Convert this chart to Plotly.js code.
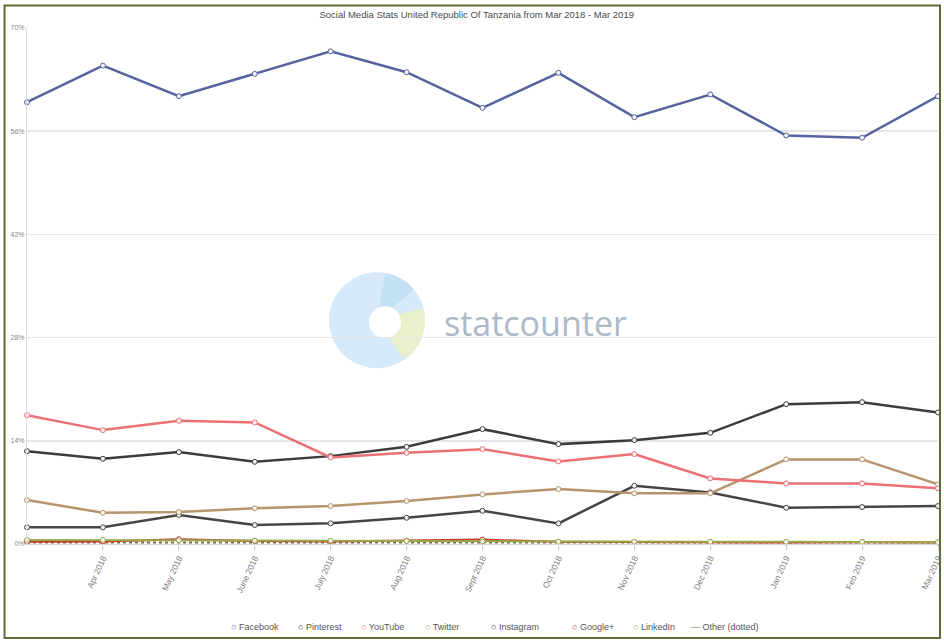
<!DOCTYPE html>
<html>
<head>
<meta charset="utf-8">
<script src="https://cdn.plot.ly/plotly-3.0.1.min.js"></script>
<style>html,body{margin:0;padding:0;background:#fff;}#chart{width:944px;height:641px;}</style>
</head>
<body>
<div id="chart"></div>
<script>
// ---- Data ----
const months = ["Mar 2018","Apr 2018","May 2018","June 2018","July 2018","Aug 2018","Sept 2018","Oct 2018","Nov 2018","Dec 2018","Jan 2019","Feb 2019","Mar 2019"];
const facebook  = [59.93,64.90,60.75,63.78,66.84,64.00,59.17,63.92,57.90,60.98,55.42,55.11,60.75];
const pinterest = [12.60,11.56,12.47,11.15,11.92,13.18,15.58,13.55,14.09,15.08,18.97,19.24,17.85];
const youtube   = [17.48,15.45,16.71,16.49,11.75,12.37,12.87,11.21,12.20,8.90,8.22,8.22,7.55];
const twitter   = [5.96,4.24,4.34,4.84,5.15,5.83,6.73,7.45,6.87,6.87,11.48,11.48,8.09];
const instagram = [2.26,2.26,3.93,2.57,2.80,3.56,4.51,2.80,7.90,7.00,4.92,5.01,5.15];
const googleplus= [0.30,0.35,0.65,0.40,0.35,0.45,0.60,0.30,0.25,0.25,0.20,0.25,0.20];
const linkedin  = [0.55,0.55,0.50,0.45,0.45,0.40,0.35,0.30,0.30,0.30,0.30,0.30,0.25];
const other     = [0.20,0.20,0.20,0.20,0.20,0.20,0.20,0.20,0.20,0.20,0.20,0.20,0.20];
const yTicks = [0,14,28,42,56,70];
const seriesNames = ["Facebook","Pinterest","YouTube","Twitter","Instagram","Google+","LinkedIn","Other (dotted)"];
const titleText = "Social Media Stats United Republic Of Tanzania from Mar 2018 - Mar 2019";

// ---- Styling ----
const colors = ["#56639f","#3c3c3c","#ec6f73","#b7946c","#454545","#c9342e","#9aa94a","#7a6a4a"];
const seriesData = [facebook,pinterest,youtube,twitter,instagram,googleplus,linkedin,other];
const drawOrder = [7,5,6,4,3,1,2,0];

// pixel geometry of the plot area
const L = 27, R = 938, T = 27.5, B = 544;
const px2x = p => (p - L) / (R - L);
const px2y = p => (B - p) / (B - T);

const traces = drawOrder.map(i => {
  const isOther = i === 7;
  return {
    type: "scatter",
    mode: isOther ? "lines" : "lines+markers",
    x: months,
    y: seriesData[i],
    name: seriesNames[i],
    showlegend: false,
    cliponaxis: false,
    line: {color: colors[i], width: i >= 5 ? 2 : 2.5, dash: isOther ? "dot" : "solid"},
    marker: {symbol: "circle", size: 5, color: "#f4f4f4", line: {color: colors[i], width: 1}}
  };
});

// ---- watermark logo shapes ----
const shapes = [];
const cx = 377, cy = 320, r = 48;
shapes.push({type:"circle", xref:"paper", yref:"paper", layer:"below",
  x0:px2x(cx-r), x1:px2x(cx+r), y0:px2y(cy+r), y1:px2y(cy-r),
  fillcolor:"#d6eafa", line:{width:0}});
function wedge(a0, a1, col) {
  let p = `M ${px2x(cx)} ${px2y(cy)}`;
  for (let k = 0; k <= 16; k++) {
    const a = (a0 + (a1 - a0) * k / 16) * Math.PI / 180;
    p += ` L ${px2x(cx + r * Math.cos(a))} ${px2y(cy + r * Math.sin(a))}`;
  }
  p += " Z";
  shapes.push({type:"path", xref:"paper", yref:"paper", layer:"below", path:p, fillcolor:col, line:{width:0}});
}
wedge(-15, 55, "#e8f0cc");
wedge(-80, -40, "#c4e0f5");
shapes.push({type:"circle", xref:"paper", yref:"paper", layer:"below",
  x0:px2x(cx+8-16), x1:px2x(cx+8+16), y0:px2y(cy+2+16), y1:px2y(cy+2-16),
  fillcolor:"#ffffff", line:{width:0}});
// frame
shapes.push({type:"rect", xref:"paper", yref:"paper", layer:"above",
  x0:px2x(4.5), x1:px2x(940), y0:px2y(638), y1:px2y(5),
  line:{color:"#5d6d36", width:2}, fillcolor:"rgba(0,0,0,0)"});

// ---- legend as annotations ----
const legendX = [229, 296, 359, 423, 489, 570, 631, 689];
const annotations = seriesNames.map((n, i) => ({
  xref:"paper", yref:"paper", x:px2x(legendX[i]), y:px2y(627), xanchor:"left", yanchor:"middle",
  showarrow:false,
  text:`<span style="color:${colors[i]}">${i === 7 ? "—" : "○"}</span> ${n}`,
  font:{family:"Liberation Sans, Arial, sans-serif", size:9, color:"#555"}
}));
annotations.push({xref:"paper", yref:"paper", x:px2x(535), y:px2y(323), xanchor:"center", yanchor:"middle",
  showarrow:false, text:"statcounter",
  font:{family:"Open Sans, Liberation Sans, sans-serif", size:34, color:"#abb9c8"}});

const layout = {
  width:944, height:641,
  margin:{l:L, r:944-R, t:T, b:641-B, pad:0},
  paper_bgcolor:"#ffffff", plot_bgcolor:"#ffffff",
  title:{text:titleText, x:0.505, xanchor:"center", y:1-15/641, yanchor:"middle",
    font:{family:"Liberation Sans, Arial, sans-serif", size:9.5, color:"#4a4a4a"}},
  xaxis:{type:"category", range:[0, months.length-1], tickvals:months.slice(1), ticktext:months.slice(1),
    tickangle:-65, tickfont:{family:"Liberation Sans, Arial, sans-serif", size:8.5, color:"#808080"},
    ticks:"outside", ticklen:5, tickcolor:"#cccccc", showgrid:false, zeroline:false,
    showline:true, linecolor:"#d8d8d8", linewidth:1, fixedrange:true},
  yaxis:{range:[0,70], tickvals:yTicks, ticktext:yTicks.map(v=>v+"%"),
    tickfont:{family:"Liberation Sans, Arial, sans-serif", size:7, color:"#888"},
    showgrid:true, gridcolor:"#e6e6e6", gridwidth:1.5, zeroline:false,
    showline:true, linecolor:"#dddddd", linewidth:1, ticks:"", fixedrange:true},
  shapes:shapes,
  annotations:annotations,
  showlegend:false,
  hovermode:false
};

Plotly.newPlot("chart", traces, layout, {displayModeBar:false, staticPlot:true});
</script>
</body>
</html>
